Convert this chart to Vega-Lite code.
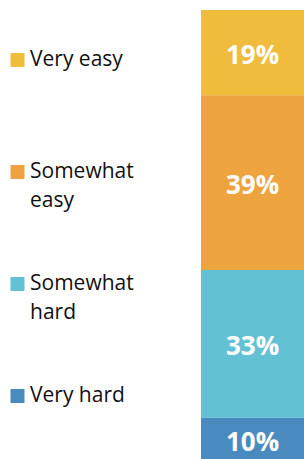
{
  "$schema": "https://vega.github.io/schema/vega-lite/v6.json",
  "width": 103,
  "height": 449,
  "autosize": {"type": "none"},
  "padding": {"left": 201, "top": 10, "right": 0, "bottom": 0},
  "background": "white",
  "config": {"view": {"stroke": null}},
  "data": {
    "values": [
      {"q": "Q", "answer": "Very easy", "share": 0.19, "rank": 4},
      {"q": "Q", "answer": "Somewhat easy", "share": 0.39, "rank": 3},
      {"q": "Q", "answer": "Somewhat hard", "share": 0.33, "rank": 2},
      {"q": "Q", "answer": "Very hard", "share": 0.10, "rank": 1}
    ]
  },
  "encoding": {
    "x": {"field": "q", "type": "nominal", "axis": null, "scale": {"paddingInner": 0, "paddingOuter": 0}},
    "order": {"field": "rank", "type": "quantitative"}
  },
  "layer": [
    {
      "mark": {"type": "bar", "clip": true},
      "encoding": {
        "y": {"field": "share", "type": "quantitative", "stack": "zero", "axis": null,
              "scale": {"domain": [0.008, 1.01], "nice": false, "zero": false}},
        "color": {
          "field": "answer", "type": "nominal",
          "scale": {
            "domain": ["Very easy", "Somewhat easy", "Somewhat hard", "Very hard"],
            "range": ["#F0BC3C", "#EDA43F", "#63C1D4", "#4A8BBF"]
          },
          "legend": {
            "orient": "none", "legendX": -194, "legendY": 0, "direction": "vertical",
            "title": null, "padding": 0,
            "symbolType": "square", "symbolSize": 196, "symbolStrokeWidth": 0, "symbolOpacity": 1,
            "labelFont": "Open Sans", "labelFontSize": 21, "labelColor": "#111111", "labelOffset": 2,
            "labelLimit": 250, "labelBaseline": "middle",
            "clipHeight": 100, "rowPadding": 12,
            "labelExpr": "length(datum.label) > 10 ? split(datum.label, ' ') : datum.label",
            "encode": {"labels": {"update": {"lineHeight": {"value": 29}}}}
          }
        }
      }
    },
    {
      "mark": {"type": "text", "color": "white", "font": "Open Sans", "fontWeight": "bold", "fontSize": 26, "baseline": "middle", "dy": 3, "clip": true},
      "encoding": {
        "y": {"field": "share", "type": "quantitative", "stack": "zero", "bandPosition": 0.5},
        "detail": {"field": "answer", "type": "nominal"},
        "text": {"field": "share", "type": "quantitative", "format": ".0%"}
      }
    }
  ]
}
